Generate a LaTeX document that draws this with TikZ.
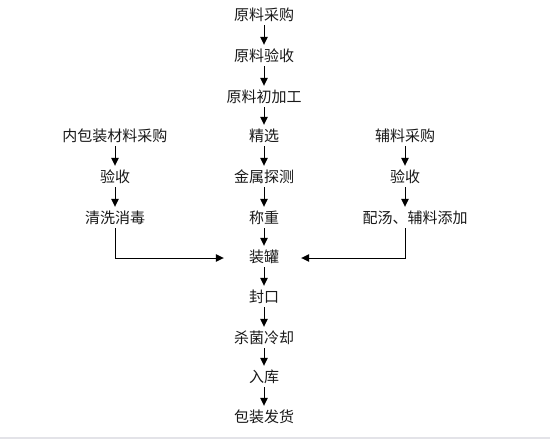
\documentclass[tikz,border=0pt]{standalone}
\usepackage{fontspec}
\setmainfont{Noto Sans CJK SC}
\usetikzlibrary{arrows.meta,calc}
\begin{document}
\begin{tikzpicture}[x=1pt,y=-1pt,
  lbl/.style={inner xsep=0pt,inner ysep=0pt,minimum height=18pt,text height=11pt,text depth=2pt,font=\fontsize{15pt}{16pt}\selectfont,text=black!90},
  arr/.style={-{Triangle[length=8pt,width=7.5pt]},line width=1pt,shorten >=3pt}]
\useasboundingbox (0,0) rectangle (550,439);
\fill[white] (0,0) rectangle (550,439);
\fill[blue!10!gray!20] (0,437) rectangle (550,439);
% center column
\node[lbl] (a1) at (264,16) {原料采购};
\node[lbl] (a2) at (264,57) {原料验收};
\node[lbl] (a3) at (264,98) {原料初加工};
\node[lbl] (a4) at (264,137) {精选};
\node[lbl] (a5) at (264,178) {金属探测};
\node[lbl] (a6) at (264,219) {称重};
\node[lbl] (zg) at (264,258) {装罐};
\node[lbl] (a8) at (264,298) {封口};
\node[lbl] (a9) at (264,339) {杀菌冷却};
\node[lbl] (a10) at (264,378) {入库};
\node[lbl] (a11) at (264,418) {包装发货};
% left column
\node[lbl] (l1) at (115,137) {内包装材料采购};
\node[lbl] (l2) at (115,178) {验收};
\node[lbl] (l3) at (115,219) {清洗消毒};
% right column
\node[lbl] (r1) at (405,137) {辅料采购};
\node[lbl] (r2) at (405,178) {验收};
\node[lbl] (r3) at (415,219) {配汤、辅料添加};
% arrows
\foreach \s/\t in {a1/a2,a2/a3,a3/a4,a4/a5,a5/a6,a6/zg,zg/a8,a8/a9,a9/a10,a10/a11,l1/l2,l2/l3,r1/r2}
  \draw[arr] (\s) -- (\t);
\draw[arr] (r2) -- (r2 |- r3.north);
\draw[arr,shorten >=25pt] (l3.south) |- (zg.west);
\draw[arr,shorten >=22pt] (r3.south -| r2) |- (zg.east);
\end{tikzpicture}
\end{document}
